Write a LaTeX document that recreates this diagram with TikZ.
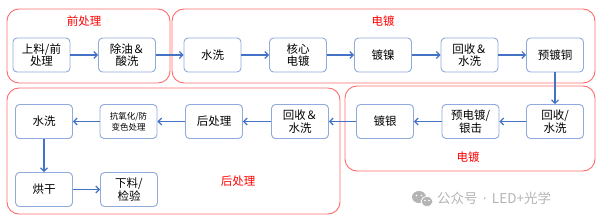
\documentclass[tikz,border=0pt]{standalone}
\usepackage{fontspec}
\setmainfont{Noto Sans CJK SC}
\newfontfamily\dejav{DejaVu Sans}
\usetikzlibrary{arrows.meta}
\definecolor{boxc}{HTML}{8FAADC}
\definecolor{arrc}{HTML}{4472C4}
\definecolor{grpc}{HTML}{FF6B6B}
\definecolor{lblc}{HTML}{FF0000}
\definecolor{wmc}{HTML}{B4B4B4}
\tikzset{
  stepbox/.style={draw=boxc, line width=0.9pt, rounded corners=4pt, fill=white,
    minimum width=57pt, minimum height=34pt, inner sep=1pt, align=center,
    font=\fontsize{11.5}{12.5}\selectfont},
  smallbox/.style={stepbox, font=\fontsize{8.5}{10.5}\selectfont},
  grp/.style={draw=grpc, line width=0.9pt, rounded corners=12pt},
  grplbl/.style={text=lblc, font=\fontsize{11.5}{13}\selectfont},
  flow/.style={draw=arrc, line width=1.1pt, -{Straight Barb[length=3.5pt,width=7pt,line width=1.1pt]}},
}
\begin{document}
\begin{tikzpicture}[x=1pt,y=-1pt]
\useasboundingbox (0,0) rectangle (600,222);
% groups
\draw[grp] (7,9) rectangle (170,83);
\draw[grp] (172,9) rectangle (595,83);
\draw[grp] (345,86) rectangle (595,171);
\draw[grp] (7,88) rectangle (340,214);
\node[grplbl] (g1) at (84,21) {前处理};
\node[grplbl] (g2) at (383,21) {电镀};
\node[grplbl] (g3) at (468,157) {电镀};
\node[grplbl] (g4) at (238,181) {后处理};
% top row
\node[stepbox] (b1) at (41.5,55) {上料/前\\处理};
\node[stepbox] (b2) at (127,55) {除油＆\\酸洗};
\node[stepbox] (b3) at (212.5,55) {水洗};
\node[stepbox] (b4) at (298,55) {核心\\电镀};
\node[stepbox] (b5) at (383,55) {镀镍};
\node[stepbox] (b6) at (469.5,55) {回收＆\\水洗};
\node[stepbox] (b7) at (555,55) {预镀铜};
% middle row
\node[stepbox] (c7) at (555,121.5) {回收/\\水洗};
\node[stepbox] (c6) at (470.5,121.5) {预电镀/\\银击};
\node[stepbox] (c5) at (385,121.5) {镀银};
\node[stepbox] (c4) at (300,121.5) {回收＆\\水洗};
\node[stepbox] (c3) at (214,121.5) {后处理};
\node[smallbox] (c2) at (128.5,121.5) {抗氧化/防\\变色处理};
\node[stepbox] (c1) at (44,121.5) {水洗};
% bottom row
\node[stepbox] (d1) at (44,189.5) {烘干};
\node[stepbox] (d2) at (129,189.5) {下料/\\检验};
% arrows
\draw[flow] (b1) -- (b2);
\draw[flow] (b2) -- (b3);
\draw[flow] (b3) -- (b4);
\draw[flow] (b4) -- (b5);
\draw[flow] (b5) -- (b6);
\draw[flow] (b6) -- (b7);
\draw[flow] (b7) -- (c7);
\draw[flow] (c7) -- (c6);
\draw[flow] (c6) -- (c5);
\draw[flow] (c5) -- (c4);
\draw[flow] (c4) -- (c3);
\draw[flow] (c3) -- (c2);
\draw[flow] (c2) -- (c1);
\draw[flow] (c1) -- (d1);
\draw[flow] (d1) -- (d2);
% watermark
\fill[wmc] (419,197) ellipse (7pt and 6pt);
\fill[white] (416.5,195.5) circle (0.9pt) (421.5,195.5) circle (0.9pt);
\filldraw[wmc, draw=white, line width=0.8pt] (427,201.5) ellipse (6pt and 5pt);
\fill[white] (425,200.5) circle (0.8pt) (429,200.5) circle (0.8pt);
\node[text=wmc, font=\fontsize{13.5}{15}\selectfont, anchor=west, inner sep=0pt] (wm) at (437,198) {公众号\hspace{5pt}{\dejav ·}\hspace{5pt}LED+光学};
\end{tikzpicture}
\end{document}
